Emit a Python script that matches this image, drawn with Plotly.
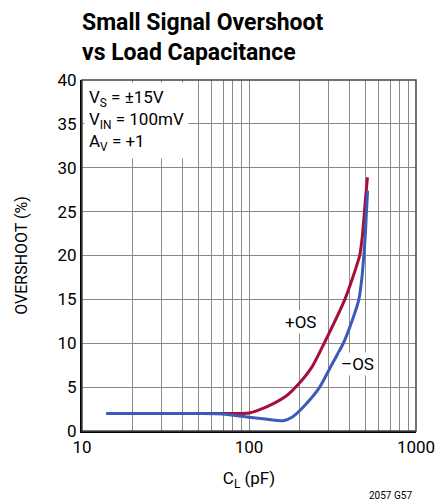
import plotly.graph_objects as go

# Data
cap_pos = [14, 30, 50, 70, 90, 100, 113, 141, 170, 195, 240, 282, 375, 420, 460, 476, 489, 500, 512]
os_pos = [2.0, 2.0, 2.0, 2.0, 2.0, 2.05, 2.35, 3.15, 4.1, 5.2, 7.4, 10.0, 15.0, 17.6, 20.0, 22.0, 24.5, 26.8, 28.9]

cap_neg = [14, 30, 50, 70, 85, 100, 129, 160, 182, 217, 265, 310, 367, 415, 455, 475, 487, 498, 505, 513]
os_neg = [2.0, 2.0, 2.0, 1.95, 1.75, 1.56, 1.33, 1.17, 1.6, 2.96, 5.0, 7.4, 10.0, 12.6, 15.0, 17.6, 20.0, 22.6, 25.0, 27.4]

x_major = [10, 100, 1000]
x_labels = ["10", "100", "1000"]
x_minor = [20, 30, 40, 50, 60, 70, 80, 90, 200, 300, 400, 500, 600, 700, 800, 900]

FONT = "Roboto, Liberation Sans, sans-serif"
RED = "#A50F3A"
BLUE = "#3A5BB8"
GRID = "#8a8a8a"

fig = go.Figure()
fig.add_trace(go.Scatter(x=cap_pos, y=os_pos, mode="lines",
                         line=dict(color=RED, width=3, shape="spline", smoothing=0.6),
                         showlegend=False, hoverinfo="skip"))
fig.add_trace(go.Scatter(x=cap_neg, y=os_neg, mode="lines",
                         line=dict(color=BLUE, width=3, shape="spline", smoothing=0.6),
                         showlegend=False, hoverinfo="skip"))

fig.update_layout(
    width=439, height=492,
    margin=dict(l=70, r=17, t=72, b=69),
    paper_bgcolor="white", plot_bgcolor="white",
    font=dict(family=FONT, color="black", size=17),
    xaxis=dict(type="log", range=[1, 3], tickmode="array", tickvals=x_major,
               ticktext=x_labels, showgrid=True, gridcolor=GRID, gridwidth=1,
               minor=dict(tickmode="array", tickvals=x_minor, showgrid=True,
                          gridcolor=GRID, gridwidth=1, ticks=""),
               showline=True, linecolor="black", linewidth=2, ticks="",
               ticklabeloverflow="allow",
               tickfont=dict(size=17), zeroline=False,
               title=dict(text="C<sub>L</sub> (pF)", font=dict(size=17), standoff=16)),
    yaxis=dict(range=[0, 40], dtick=5, showgrid=True, gridcolor=GRID, gridwidth=1,
               showline=True, linecolor="black", linewidth=2, ticks="",
               tickfont=dict(size=17), zeroline=False,
               title=dict(text="OVERSHOOT (%)", font=dict(size=16), standoff=26)),
    shapes=[dict(type="rect", xref="paper", yref="paper", x0=0, x1=1, y0=0, y1=1,
                 line=dict(color="#444", width=1.5), layer="above")],
)

# Title
fig.add_annotation(xref="paper", yref="paper", x=0, y=1, xanchor="left", yanchor="bottom",
                   xshift=-2, yshift=12, align="left", showarrow=False,
                   text="<b>Small Signal Overshoot<br>vs Load Capacitance</b>",
                   font=dict(size=23, family=FONT))

# Conditions box
fig.add_annotation(xref="paper", yref="paper", x=0, y=1, xanchor="left", yanchor="top",
                   xshift=2, yshift=-2, align="left", showarrow=False,
                   bgcolor="white", borderpad=4,
                   text="V<sub>S</sub> = ±15V<br>V<sub>IN</sub> = 100mV<br>A<sub>V</sub> = +1",
                   font=dict(size=17))

# Curve labels
fig.add_annotation(x=2.307, y=12.4, xref="x", yref="y", showarrow=False, text="+OS",
                   bgcolor="white", font=dict(size=17))
fig.add_annotation(x=2.648, y=7.6, xref="x", yref="y", showarrow=False, text="–OS",
                   bgcolor="white", font=dict(size=17))

# Figure code
fig.add_annotation(xref="paper", yref="paper", x=1, y=0, xanchor="right", yanchor="middle",
                   xshift=-2, yshift=-64, showarrow=False, text="2057 G57",
                   font=dict(size=10))

fig.write_html("out.html")
